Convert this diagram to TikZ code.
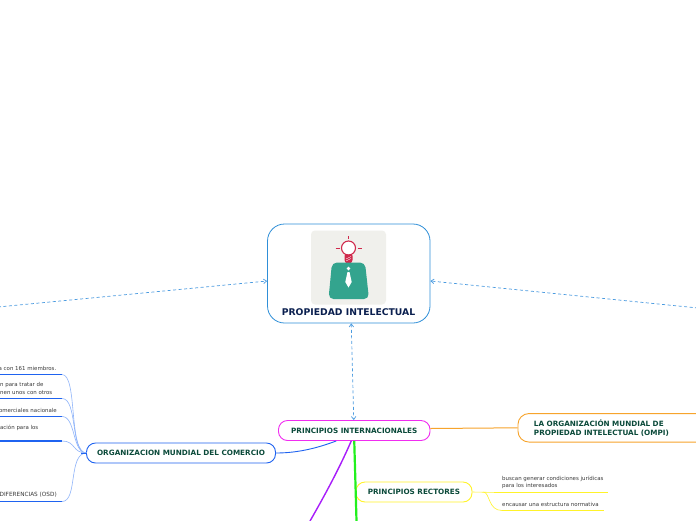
\documentclass[tikz,border=0pt]{standalone}
\usepackage{fontspec}
\setmainfont{DejaVu Sans}
\definecolor{mainblue}{HTML}{2F8FD8}
\definecolor{dashblue}{HTML}{4A9BE0}
\definecolor{deepgreen}{HTML}{0B4A3A}
\definecolor{navy}{HTML}{0A1F4F}
\definecolor{wtoblue}{HTML}{1F63F0}
\definecolor{lineblue}{HTML}{8FB4FA}
\definecolor{pink}{HTML}{F02DF0}
\definecolor{omporange}{HTML}{F7A42C}
\definecolor{lemon}{HTML}{FFF32A}
\definecolor{violet2}{HTML}{A81EFA}
\definecolor{lime}{HTML}{22F01E}
\definecolor{leaftext}{HTML}{3A3A3A}
\definecolor{crim}{HTML}{D0294C}
\definecolor{teal2}{HTML}{33A48E}
\definecolor{iconbg}{HTML}{F0F0EC}
\usetikzlibrary{arrows.meta}
\tikzset{
  x=1pt,y=-1pt,
  topic/.style={draw,rounded corners=9pt,line width=.9pt,fill=white,text=deepgreen,font=\bfseries\fontsize{7.25}{9.2}\selectfont,align=left,inner sep=0pt},
  leaf/.style={text=leaftext,font=\fontsize{5.45}{7.1}\selectfont,align=left,inner sep=0pt},
  dashlink/.style={dashblue,dash pattern=on 3pt off 2.5pt,line width=.7pt,{Straight Barb[length=3pt,width=4.5pt]}-{Straight Barb[length=3pt,width=4.5pt]}},
  wtoline/.style={wtoblue,line width=1.2pt},
  yline/.style={lemon,line width=1.4pt},
  twig/.style={lineblue,line width=.6pt},
}
\begin{document}
\begin{tikzpicture}
\useasboundingbox (0,0) rectangle (696,520);
\clip (0,0) rectangle (696,520);
\fill[white] (0,0) rectangle (696,520);

% main node
\node[draw=mainblue,rounded corners=17pt,line width=.8pt,fill=white,minimum width=162.5pt,minimum height=99pt,inner sep=0pt] (main) at (348.75,273.5) {};
\node[text=navy,font=\bfseries\fontsize{9.25}{10}\selectfont,inner sep=0pt] (title) at (348.5,312) {PROPIEDAD INTELECTUAL};
% icon
\fill[iconbg,rounded corners=4pt] (311,230.5) rectangle (386,304.5);
\draw[crim,line width=1.1pt,fill=white] (348.5,248) circle (7);
\draw[crim,line width=1pt] (348.5,236) -- (348.5,239) (335.5,248) -- (339.5,248) (357.5,248) -- (361.5,248);
\fill[crim,rounded corners=1pt] (344.5,254.5) -- (352.5,254.5) -- (352.5,261) -- (350,264) -- (347,264) -- (344.5,261) -- cycle;
\draw[white,line width=.4pt] (346,259) -- (351,256.5) (346,261) -- (351,258.5);
\fill[teal2,rounded corners=5pt] (332,262.5) -- (365,262.5) -- (369,299) -- (328.5,299) -- cycle;
\fill[white] (348.5,266.5) -- (350.3,268.5) -- (348.5,270.5) -- (346.7,268.5) -- cycle;
\fill[white] (347.5,272) -- (349.5,272) -- (351.7,282) -- (348.5,287.5) -- (345.3,282) -- cycle;

% topics
\node[topic,draw=pink,minimum width=151.5pt,minimum height=20pt,align=center] (pi) at (354.25,430.5) {PRINCIPIOS INTERNACIONALES};
\node[topic,draw=wtoblue,minimum width=189pt,minimum height=20pt,align=center] (omc) at (181,453) {ORGANIZACION MUNDIAL DEL COMERCIO};
\node[topic,draw=lemon,minimum width=116pt,minimum height=20pt,align=center] (pr) at (414,492) {PRINCIPIOS RECTORES};
\node[topic,draw=omporange,rounded corners=11pt,minimum width=200pt,minimum height=28.5pt,anchor=west,text width=186pt,inner xsep=7pt,align=left] (ompi) at (517.5,427.8) {\hspace{9pt}LA ORGANIZACIÓN MUNDIAL DE\\\hspace{9pt}PROPIEDAD INTELECTUAL (OMPI)};

% free ends
\coordinate (fl) at (-2,307);
\coordinate (fr) at (698,308);
\coordinate (pb) at (310,521);
\coordinate (gb) at (356.5,521);
\coordinate (edge) at (0,0);

% dashed links
\draw[dashlink,-{Straight Barb[length=3pt,width=4.5pt]}] (fl) -- ([yshift=-7.5pt]main.west);
\draw[dashlink,-{Straight Barb[length=3pt,width=4.5pt]}] (fr) -- ([yshift=-7.5pt]main.east);
\draw[dashlink] ([xshift=2.5pt]main.south) -- ([xshift=-.5pt]pi.north);

% topic links
\draw[omporange,line width=1pt] (pi.east) ++(0,-2) -- (ompi.west);
\draw[wtoblue,line width=.9pt] (omc.east) .. controls (300,453) and (320,447) .. ([xshift=-18pt]pi.south);
\draw[violet2,line width=1.4pt] ([xshift=-3pt]pi.south) .. controls (340,467) and (325,495) .. (pb);
\draw[lime,line width=2.2pt] (pi.south) -- (gb);

% yellow branch
\coordinate (y1a) at (497,492.5);
\coordinate (y1b) at (607.5,492.5);
\coordinate (y2a) at (502,510.5);
\coordinate (y2b) at (604,510.5);
\draw[lemon,line width=.6pt] (pr.east) -- (y1a);
\draw[lemon,line width=.6pt] (pr.east) ++(11,0) .. controls (490,492.5) and (488,510.5) .. (y2a);
\draw[yline] (y1a) -- (y1b);
\draw[yline] (y2a) -- (y2b);
\node[leaf,anchor=west] (l1) at (502,482.5) {buscan generar condiciones jurídicas\\para los interesados};
\node[leaf,anchor=west] (l2) at (502,504.3) {encausar una estructura normativa};

% WTO leaves
\coordinate (hub) at (86.5,453);
\coordinate (a1) at (62,374.5);
\coordinate (a2) at (62,398.5);
\coordinate (a3) at (62,416.5);
\coordinate (a4) at (62,441);
\coordinate (a5) at (62,501.5);
\foreach \anch in {a1,a2,a3,a4,a5} {
  \draw[wtoline] (\anch) -- (\anch -| edge);
}
\draw[twig] (a1) .. controls (78,374.5) and (68,453) .. (hub);
\draw[twig] (a2) .. controls (78,398.5) and (70,453) .. (hub);
\draw[twig] (a3) .. controls (76,416.5) and (72,453) .. (hub);
\draw[twig] (a4) .. controls (76,441) and (72,453) .. (hub);
\draw[twig] (a5) .. controls (78,501.5) and (68,453) .. (hub);
\draw[wtoblue,line width=.9pt] (81,453) -- (hub);

\node[leaf,anchor=east] (w1) at (56.5,368) {a con 161 miembros.};
\node[leaf,anchor=west] (w2) at (0,388.5) {n para tratar de\\nen unos con otros};
\node[leaf,anchor=east] (w3) at (57,410) {omerciales nacionale};
\node[leaf,anchor=east] (w4) at (38.5,428) {ación para los};
\node[leaf,anchor=east,font=\fontsize{5.75}{7.1}\selectfont] (w5) at (57,495) {DIFERENCIAS (OSD)};
\end{tikzpicture}
\end{document}
